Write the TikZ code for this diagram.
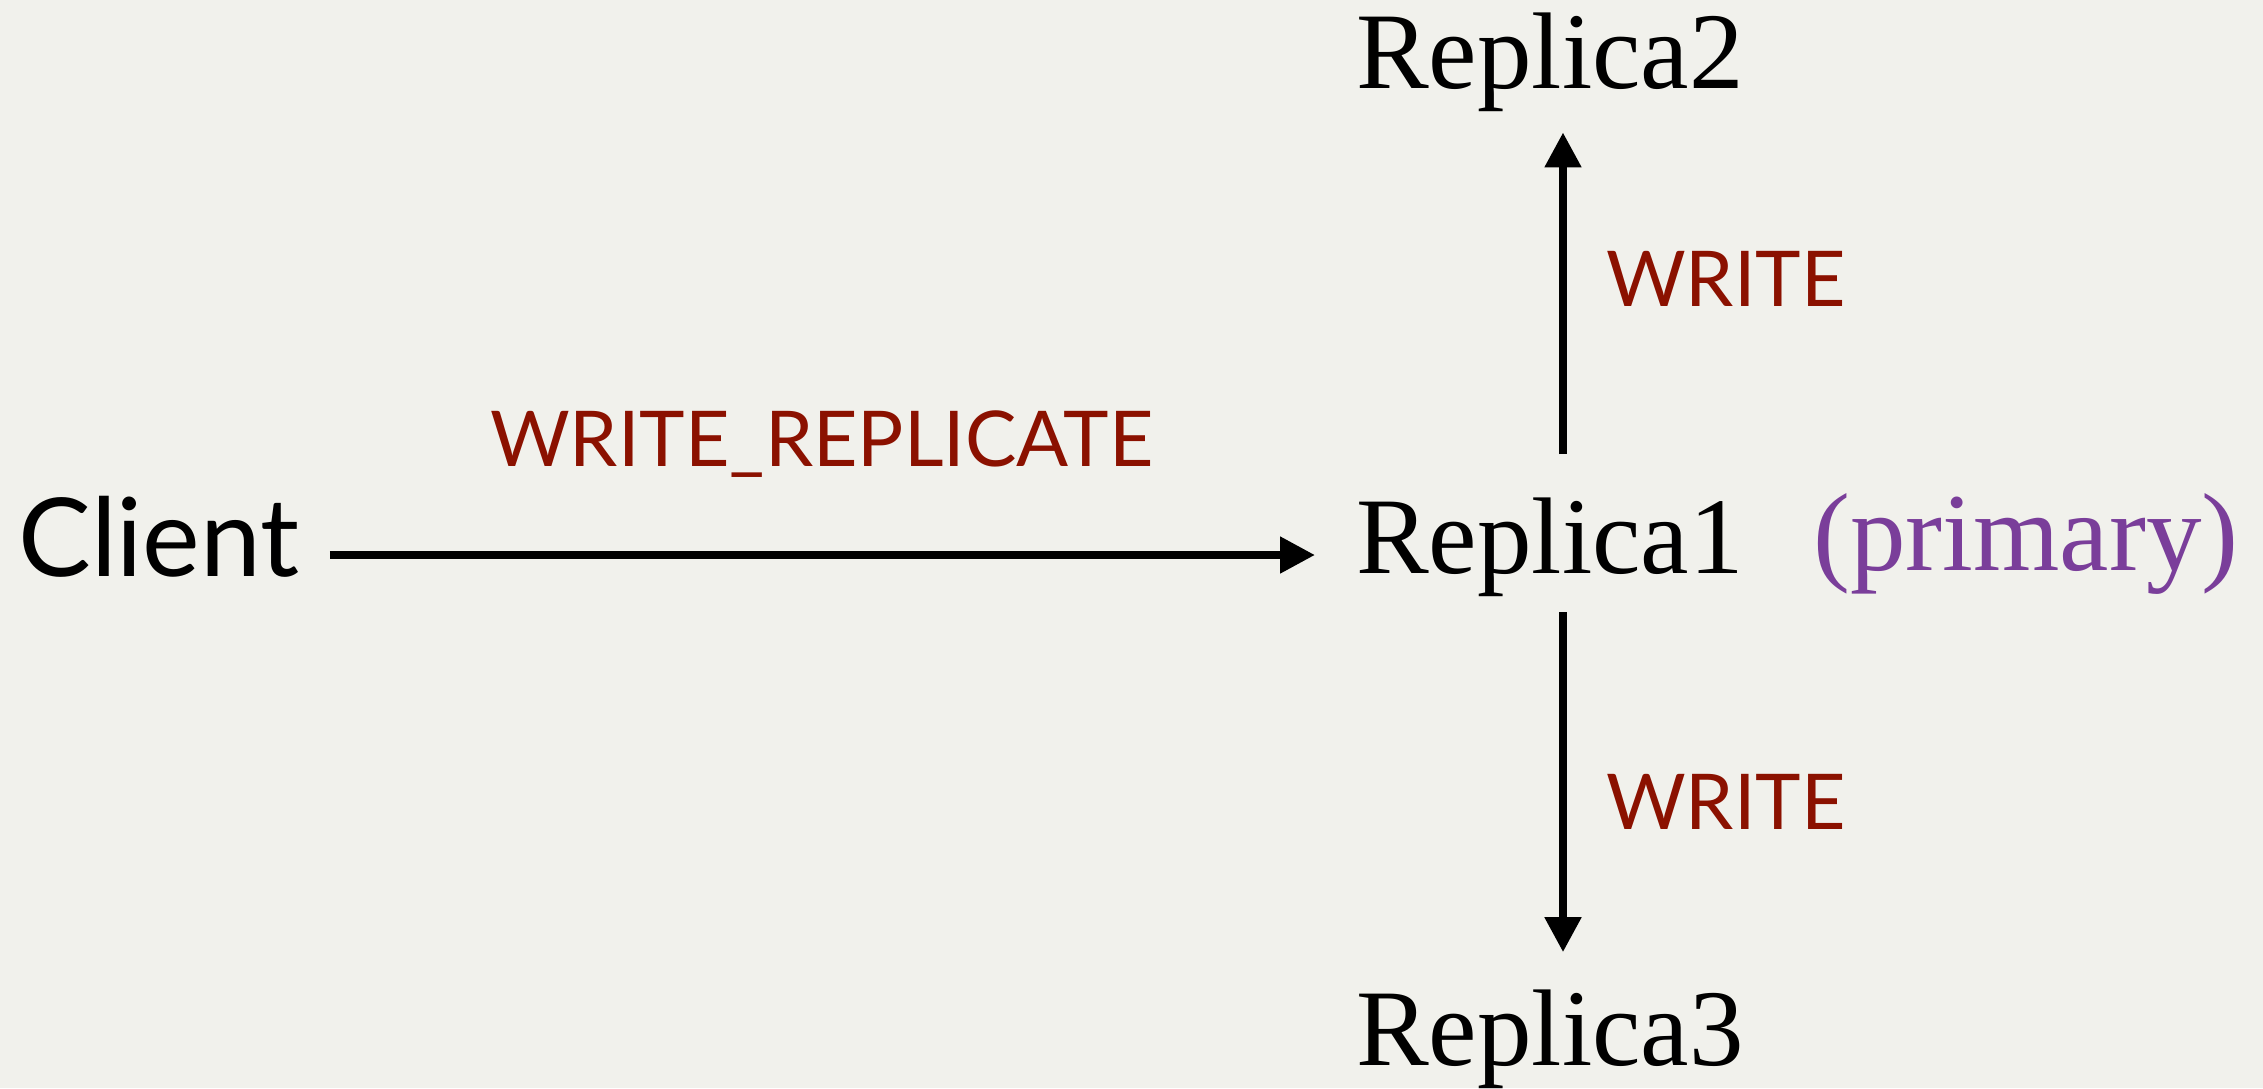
\documentclass[tikz,border=0pt]{standalone}
\usepackage{fontspec}
\setmainfont{Liberation Serif}
\newfontfamily\gillfont{Lato}
\usetikzlibrary{arrows.meta}
\definecolor{bgc}{RGB}{241,241,236}
\definecolor{wred}{RGB}{139,17,0}
\definecolor{wpurple}{RGB}{122,62,154}
\tikzset{
  serifbox/.style={inner sep=0pt, anchor=base west, font=\fontsize{109}{120}\selectfont},
  sansbox/.style={inner sep=0pt, anchor=base west, font=\gillfont\fontsize{109}{120}\selectfont},
  msglabel/.style={inner sep=0pt, anchor=base west, text=wred, font=\gillfont\fontsize{77}{90}\selectfont},
  arr/.style={line width=8pt, -{Triangle[length=35pt,width=35pt]}}
}
\begin{document}
\begin{tikzpicture}[x=1pt,y=-1pt]
\fill[bgc] (0,0) rectangle (2263,1088);
\useasboundingbox (0,0) rectangle (2263,1088);
\node[sansbox] (client) at (18,576) {Client};
\node[serifbox] (r1) at (1356,573) {Replica1};
\node[serifbox, text=wpurple] (prim) at (1813,570) {\fontsize{111}{120}\selectfont(primary)};
\node[serifbox] (r2) at (1356,88) {Replica2};
\node[serifbox] (r3) at (1356,1065) {Replica3};
\node[msglabel] (lwr) at (490,466) {WRITE\_REPLICATE};
\node[msglabel] (lw1) at (1606,306) {WRITE};
\node[msglabel] (lw2) at (1606,829) {WRITE};
\draw[arr, shorten <=30pt, shorten >=41pt] (client.east |- 0,555) -- (r1.west |- 0,555);
\draw[arr, shorten <=43pt, shorten >=21pt] (r1.north -| 1563,0) -- (r2.south -| 1563,0);
\draw[arr, shorten <=16pt, shorten >=37pt] (r1.south -| 1563,0) -- (r3.north -| 1563,0);
\end{tikzpicture}
\end{document}
